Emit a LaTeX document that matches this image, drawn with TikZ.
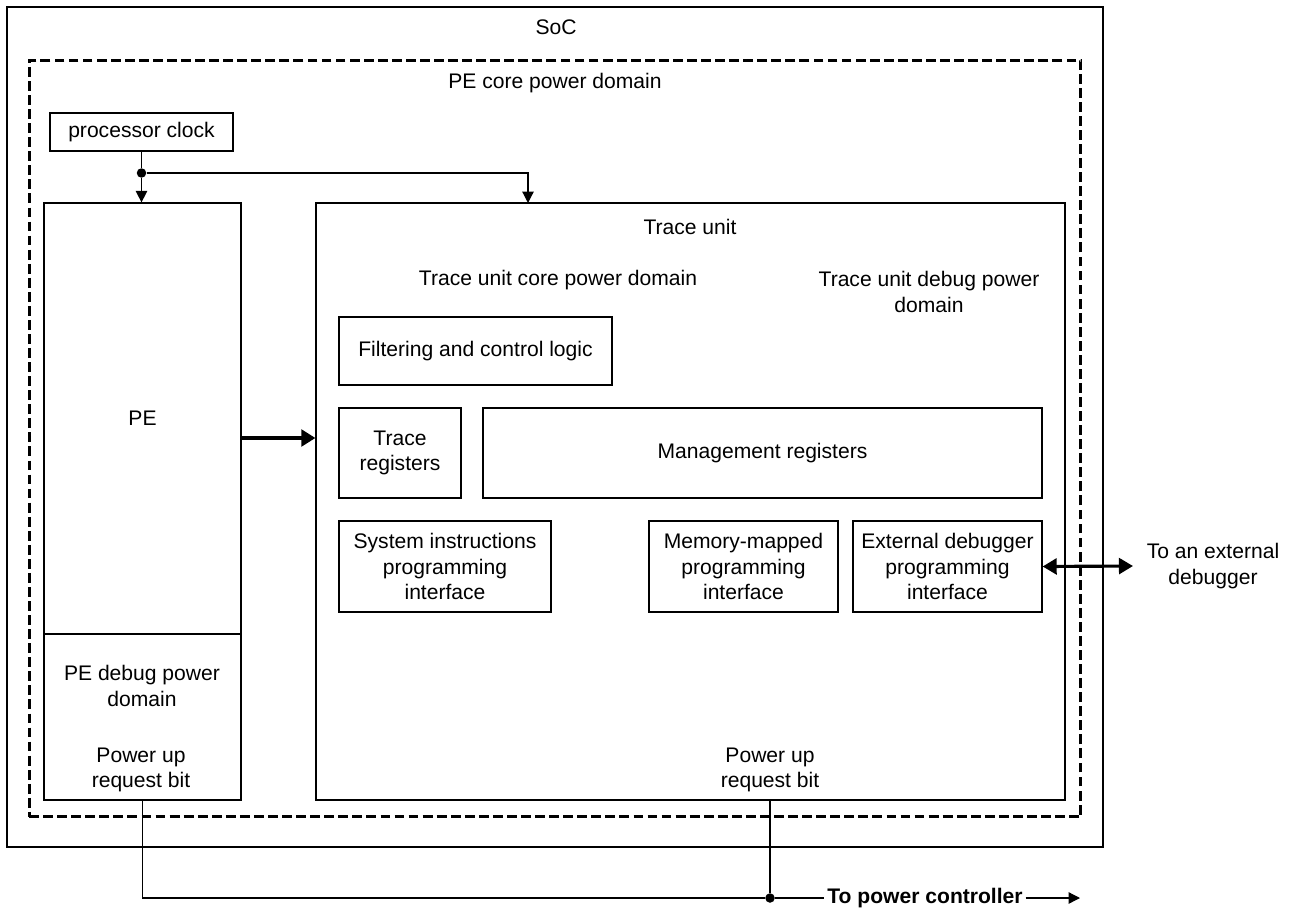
\documentclass[tikz,border=0pt]{standalone}
\usepackage{fontspec}
\setmainfont{Liberation Sans}
\usetikzlibrary{arrows.meta}

\begin{document}
\begin{tikzpicture}[>={Triangle[length=6.5pt,width=6.5pt]},x=0.02cm,y=-0.02cm,
                font=\fontsize{12}{14.5}\selectfont,
                box/.style={draw,line width=0.75pt,inner sep=0pt,align=center},
                txt/.style={align=center,inner sep=0pt},
                dot/.style={circle,fill,inner sep=0pt,minimum size=0.19cm},
                wire/.style={line width=0.7pt},
                bigarrow/.style={line width=1.8pt,-{Triangle[length=8pt,width=9.5pt]}},
                dblarrow/.style={line width=1.8pt,{Triangle[length=8pt,width=9pt]}-{Triangle[length=8pt,width=9pt]}}]
                \useasboundingbox (0,0) rectangle (1290,912);
                \node[box,minimum width=21.92cm,minimum height=16.8cm] (soc) at (555,427) {};
                \node[box,line width=1.7pt,dash pattern=on 5.6pt off 2.4pt,minimum width=21.04cm,minimum height=15.14cm] (pcd) at (555,438.5) {};
                \node[txt] (soclbl) at (556,27) {SoC};
                \node[txt] (pcdlbl) at (555,83) {PE core power domain};
                \node[box,minimum width=3.66cm,minimum height=0.76cm] (clk) at (141.5,132) {processor clock};
                \node[box,minimum width=3.94cm,minimum height=8.62cm] (pe) at (142.5,418.5) {PE};
                \node[box,minimum width=3.94cm,minimum height=3.32cm] (pedbg) at (142.5,717) {};
                \node[txt] (pedbglbl) at (142,686) {PE debug power\\domain};
                \node[txt] (pepwrlbl) at (141,770) {Power up\\request bit};
                \node[box,minimum width=14.98cm,minimum height=11.94cm] (tu) at (690.5,501.5) {};
                \node[txt] (tulbl) at (690,227) {Trace unit};
                \node[txt] (tucorelbl) at (558,280) {Trace unit core power domain};
                \node[txt] (tudbglbl) at (929,292) {Trace unit debug power\\domain};
                \node[box,minimum width=5.46cm,minimum height=1.36cm] (filt) at (475.5,351) {Filtering and control logic};
                \node[box,minimum width=2.44cm,minimum height=1.8cm] (treg) at (400,453) {Trace\\registers};
                \node[box,minimum width=11.18cm,minimum height=1.8cm] (mgmt) at (762.5,453) {Management registers};
                \node[box,minimum width=4.24cm,minimum height=1.82cm] (sipi) at (445,566.5) {System instructions\\programming\\interface};
                \node[box,minimum width=3.78cm,minimum height=1.82cm] (mmpi) at (743.5,566.5) {Memory-mapped\\programming\\interface};
                \node[box,minimum width=3.78cm,minimum height=1.82cm] (edpi) at (947.5,566.5) {External debugger\\programming\\interface};
                \node[txt] (tupwrlbl) at (770,770) {Power up\\request bit};
                \node[txt] (extdbg) at (1213,566) {To an external\\debugger};
                \node[dot] (split) at (clk.south |- 0,173) {};
                \coordinate (tuclk) at (528,203);
                \draw[wire] (clk) -- (split);
                \draw[wire,->] (split) -- (split |- pe.north);
                \draw[wire,->] (split) -| (tuclk);
                \draw[bigarrow] (pe.east |- 0,438) -- (tu.west |- 0,438);
                \coordinate (extend) at (1133,566);
                \draw[dblarrow] (edpi.east) -- (extend);
                \node[dot] (join) at (770,898) {};
                \node[inner sep=1.5pt,font=\fontsize{12}{14.5}\selectfont\bfseries] (pwrctl) at (925,898) {To power controller};
                \coordinate (pwrend) at (1080,898);
                \draw[wire] (pedbg.south) |- (join);
                \draw[wire] (tu.south -| join) -- (join);
                \draw[wire] (join) -- (pwrctl);
                \draw[wire,->] (pwrctl) -- (pwrend);
\end{tikzpicture}
\end{document}
